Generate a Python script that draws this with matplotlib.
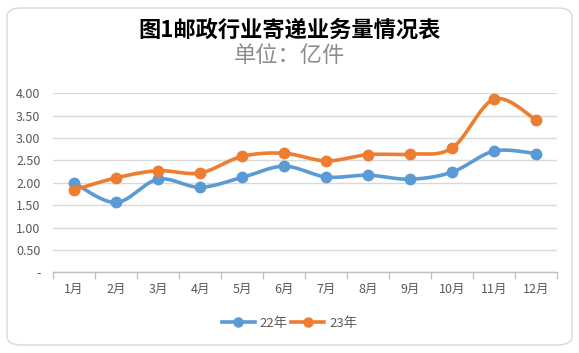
import numpy as np
import matplotlib
matplotlib.use("Agg")
import matplotlib.pyplot as plt
from matplotlib.patches import FancyBboxPatch

plt.rcParams['font.family'] = ['Noto Sans CJK SC', 'DejaVu Sans']

months = ['1月', '2月', '3月', '4月', '5月', '6月', '7月', '8月', '9月', '10月', '11月', '12月']
y22 = [2.00, 1.56, 2.08, 1.90, 2.12, 2.37, 2.13, 2.17, 2.08, 2.24, 2.71, 2.65]
y23 = [1.84, 2.11, 2.27, 2.22, 2.59, 2.66, 2.49, 2.63, 2.64, 2.78, 3.87, 3.40]
yticks = [0, 0.5, 1.0, 1.5, 2.0, 2.5, 3.0, 3.5, 4.0]
ytick_labels = ['-', '0.50', '1.00', '1.50', '2.00', '2.50', '3.00', '3.50', '4.00']
title = '图1邮政行业寄递业务量情况表'
subtitle = '单位：亿件'
series_names = ['22年', '23年']
colors = ['#5B9BD5', '#ED7D31']


def smooth(x, y, n=30):
    """Excel-like smoothed line: cubic Bezier with Catmull-Rom control points."""
    x = np.asarray(x, float)
    y = np.asarray(y, float)
    px, py = [], []
    m = len(x)
    for i in range(m - 1):
        x0, y0 = (x[i - 1], y[i - 1]) if i > 0 else (x[i], y[i])
        x1, y1 = x[i], y[i]
        x2, y2 = x[i + 1], y[i + 1]
        x3, y3 = (x[i + 2], y[i + 2]) if i + 2 < m else (x2, y2)
        c1x, c1y = x1 + (x2 - x0) / 6, y1 + (y2 - y0) / 6
        c2x, c2y = x2 - (x3 - x1) / 6, y2 - (y3 - y1) / 6
        t = np.linspace(0, 1, n)
        bx = (1 - t) ** 3 * x1 + 3 * (1 - t) ** 2 * t * c1x + 3 * (1 - t) * t ** 2 * c2x + t ** 3 * x2
        by = (1 - t) ** 3 * y1 + 3 * (1 - t) ** 2 * t * c1y + 3 * (1 - t) * t ** 2 * c2y + t ** 3 * y2
        px.extend(bx)
        py.extend(by)
    return np.array(px), np.array(py)


fig = plt.figure(figsize=(5.79, 3.53), dpi=100)
fig.patch.set_facecolor('white')

# rounded chart border
border = FancyBboxPatch((7 / 579, 8 / 353), 565 / 579, 337 / 353,
                        boxstyle='round,pad=0,rounding_size=0.025',
                        transform=fig.transFigure, facecolor='none',
                        edgecolor='#D9D9D9', linewidth=1.0, zorder=-1)
fig.patches.append(border)

ax = fig.add_axes([53 / 579, 1 - 272.3 / 353, (557.3 - 53) / 579, (272.3 - 93.3) / 353])
ax.set_facecolor('none')

x = np.arange(len(months))
for vals, name, c in zip([y22, y23], series_names, colors):
    sx, sy = smooth(x, vals)
    ax.plot(sx, sy, color=c, linewidth=2.6, solid_capstyle='round', zorder=3)
    ax.plot(x, vals, linestyle='none', marker='o', markersize=7.5, color=c, zorder=4)
    ax.plot([], [], color=c, linewidth=2.6, marker='o', markersize=6.5, label=name)

ax.set_xlim(-0.5, len(months) - 0.5)
ax.set_ylim(0, 4.0)
ax.set_yticks(yticks)
ax.set_yticklabels(ytick_labels)
ax.set_xticks(x)
ax.set_xticklabels(months)
ax.set_xticks(np.arange(-0.5, len(months), 1), minor=True)
ax.tick_params(axis='x', which='major', length=0, pad=8, labelsize=9, labelcolor='#595959')
ax.tick_params(axis='x', which='minor', length=5, color='#BFBFBF', width=0.9)
ax.tick_params(axis='y', length=0, pad=9, labelsize=9, labelcolor='#595959')
ax.grid(axis='y', color='#D9D9D9', linewidth=1.0, zorder=0)
for s in ['top', 'right', 'left']:
    ax.spines[s].set_visible(False)
ax.spines['bottom'].set_color('#BFBFBF')
ax.spines['bottom'].set_linewidth(1.0)

fig.text(0.5, 1 - 30 / 353, title, ha='center', va='center', fontsize=16,
         fontweight='bold', color='#000000')
fig.text(0.5, 1 - 56 / 353, subtitle, ha='center', va='center', fontsize=16,
         color='#8C8C8C')

leg = fig.legend(loc='center', bbox_to_anchor=(0.5, 1 - 323 / 353), ncol=2, frameon=False,
                 fontsize=9.5, handlelength=2.5, handletextpad=0.35, columnspacing=0.3)
for t in leg.get_texts():
    t.set_color('#595959')

fig.savefig('out.png', dpi=100, facecolor='white')
